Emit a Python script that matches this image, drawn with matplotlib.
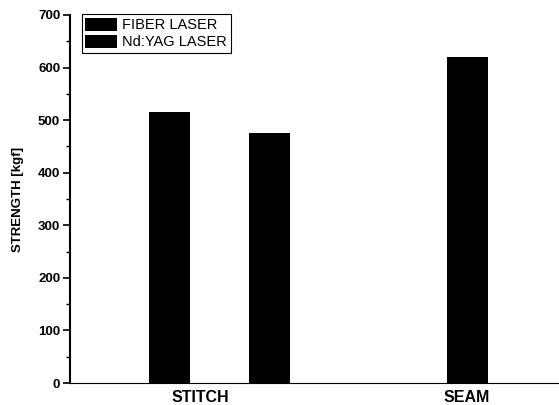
import numpy as np
import matplotlib.pyplot as plt
from matplotlib.ticker import MultipleLocator

# Data
categories = ['STITCH', 'SEAM']
fiber_strength = [515, 620]
ndyag_strength = [475, np.nan]   # seam Nd:YAG bar falls outside the cropped frame
series_labels = ['FIBER LASER', 'Nd:YAG LASER']

plt.rcParams['font.family'] = ['Liberation Sans', 'DejaVu Sans']

group_x = np.arange(len(categories))
offset = 0.168
width = 0.138
tick_x = [-0.064, 0.83]

fig = plt.figure(figsize=(5.59, 4.05), dpi=100)
ax = fig.add_axes([0.125, 0.0543, 0.875, 0.9087])

ax.bar(group_x - offset, fiber_strength, width, color='black', label=series_labels[0])
ax.bar(group_x + offset, ndyag_strength, width, color='black', label=series_labels[1])

ax.set_xlim(-0.503, 1.138)
ax.set_ylim(0, 700)
ax.yaxis.set_major_locator(MultipleLocator(100))
ax.yaxis.set_minor_locator(MultipleLocator(50))
ax.set_xticks(tick_x)
ax.set_xticklabels(categories, fontsize=11.5, fontweight='bold')
ax.tick_params(axis='x', length=0, pad=5)
ax.tick_params(axis='y', which='major', length=5, width=1.2, labelsize=9.5, pad=2)
ax.tick_params(axis='y', which='minor', length=3, width=1.0)
for lab in ax.get_yticklabels():
    lab.set_fontweight('bold')

ax.set_ylabel('STRENGTH [kgf]', fontsize=9.5, fontweight='bold', labelpad=10)

ax.spines['top'].set_visible(False)
ax.spines['right'].set_visible(False)
ax.spines['left'].set_linewidth(1.5)
ax.spines['bottom'].set_linewidth(0.8)

leg = ax.legend(loc='upper left', bbox_to_anchor=(0.024, 1.003), fontsize=10.5,
                frameon=True, fancybox=False, edgecolor='black', framealpha=1,
                handlelength=2.2, handleheight=1.0, handletextpad=0.35,
                borderpad=0.25, labelspacing=0.2, borderaxespad=0)
leg.get_frame().set_linewidth(0.8)

fig.savefig('out.png', dpi=100)
